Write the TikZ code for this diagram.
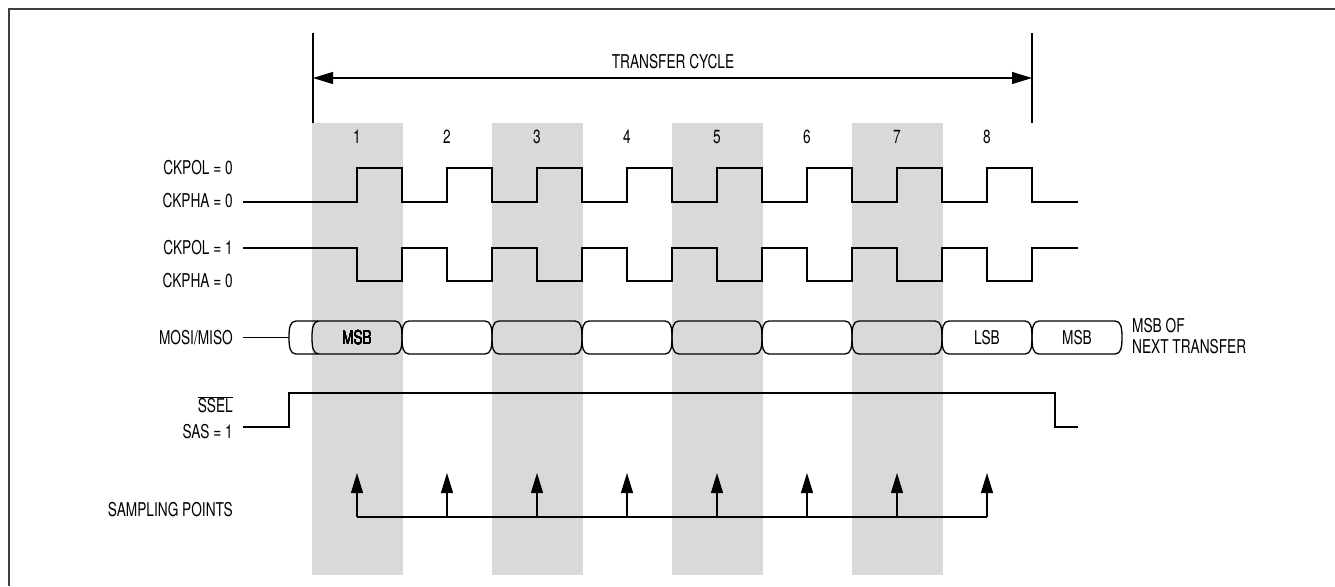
\documentclass[tikz,border=0pt]{standalone}
\usepackage{fontspec}
\setmainfont[FakeStretch=0.72]{TeX Gyre Heros}
\usetikzlibrary{arrows.meta}
\definecolor{band}{HTML}{D9D9D9}
\definecolor{framec}{HTML}{404040}
\newcommand\dbox[2]{\draw[sig] ({#1+7},321) -- ({#2-7},321) .. controls ({#2-1},321) and (#2,328) .. (#2,337.5) .. controls (#2,347) and ({#2-1},354) .. ({#2-7},354) -- ({#1+7},354) .. controls ({#1+1},354) and (#1,347) .. (#1,337.5) .. controls (#1,328) and ({#1+1},321) .. ({#1+7},321) -- cycle;}
\begin{document}
\begin{tikzpicture}[x=1pt,y=-1pt, font=\fontsize{19}{21}\selectfont,
  sig/.style={line width=1.3pt, line join=miter},
  lbl/.style={anchor=east, inner sep=0pt},
  tip/.style={-{Triangle[length=20pt,width=12pt]}}]
\useasboundingbox (0,0) rectangle (1335,586);
% bands
\foreach \x in {312,492,672,852} \fill[band] (\x,123) rectangle ++(90.5,452);
% frame
\draw[line width=2.2pt, framec] (9,586) -- (9,9) -- (1335,9);
% transfer cycle
\coordinate (mla) at (313,33); \coordinate (mlb) at (313,123);
\coordinate (mra) at (1032,33); \coordinate (mrb) at (1032,123);
\draw[sig] (mla) -- (mlb);
\draw[sig] (mra) -- (mrb);
\coordinate (ta) at (313,78); \coordinate (tb) at (1032,78);
\draw[sig, {Triangle[length=20pt,width=12pt]}-{Triangle[length=20pt,width=12pt]}] (ta) -- (tb);
\node (tc) at (673,62) {TRANSFER CYCLE};
% numbers
\foreach \k in {1,...,8} \node (n\k) at ({357+90*(\k-1)},137) {\k};
% labels
\node[lbl] (l1) at (233,168) {CKPOL = 0};
\node[lbl] (l2) at (233,201) {CKPHA = 0};
\node[lbl] (l3) at (233,248) {CKPOL = 1};
\node[lbl] (l4) at (233,281) {CKPHA = 0};
\node[lbl] (l5) at (233,337.5) {MOSI/MISO};
\node[lbl] (l6) at (233,405) {\ensuremath{\overline{\mbox{SSEL}}}};
\node[lbl] (l7) at (233,432) {SAS = 1};
\node[lbl] (l8) at (233,510) {SAMPLING POINTS};
% clocks
\draw[sig] (243,202) \foreach \k in {0,...,7} { -- ({357+90*\k},202) -- ({357+90*\k},168) -- ({402+90*\k},168) -- ({402+90*\k},202) } -- (1078,202);
\draw[sig] (243,248) \foreach \k in {0,...,7} { -- ({357+90*\k},248) -- ({357+90*\k},281) -- ({402+90*\k},281) -- ({402+90*\k},248) } -- (1078,248);
% MOSI/MISO
\coordinate (m0) at (243,337.5); \coordinate (m1) at (289,337.5);
\draw[sig] (m0) -- (m1);
\draw[sig] (318,321) -- (296,321) .. controls (290,321) and (289,328) .. (289,337.5) .. controls (289,347) and (290,354) .. (296,354) -- (318,354);
\foreach \k in {0,...,8} \dbox{312+90*\k}{402+90*\k}
\node (b1) at (357,337.5) {MSB};
\node (b8) at (987,337.5) {LSB};
\node (b9) at (1077,337.5) {MSB};
\node[anchor=west, inner sep=0pt, align=left] (nx) at (1132,336) {MSB OF\\NEXT TRANSFER};
% SSEL
\draw[sig] (243,427) -- (289,427) -- (289,393) -- (1055,393) -- (1055,427) -- (1078,427);
% sampling
\coordinate (sa) at (357,517); \coordinate (sb) at (987,517);
\draw[sig] (sa) -- (sb);
\foreach \k in {0,...,7} {
  \coordinate (sp\k) at ({357+90*\k},517);
  \coordinate (st\k) at ({357+90*\k},473);
  \draw[sig, tip] (sp\k) -- (st\k);
}
\end{tikzpicture}
\end{document}
